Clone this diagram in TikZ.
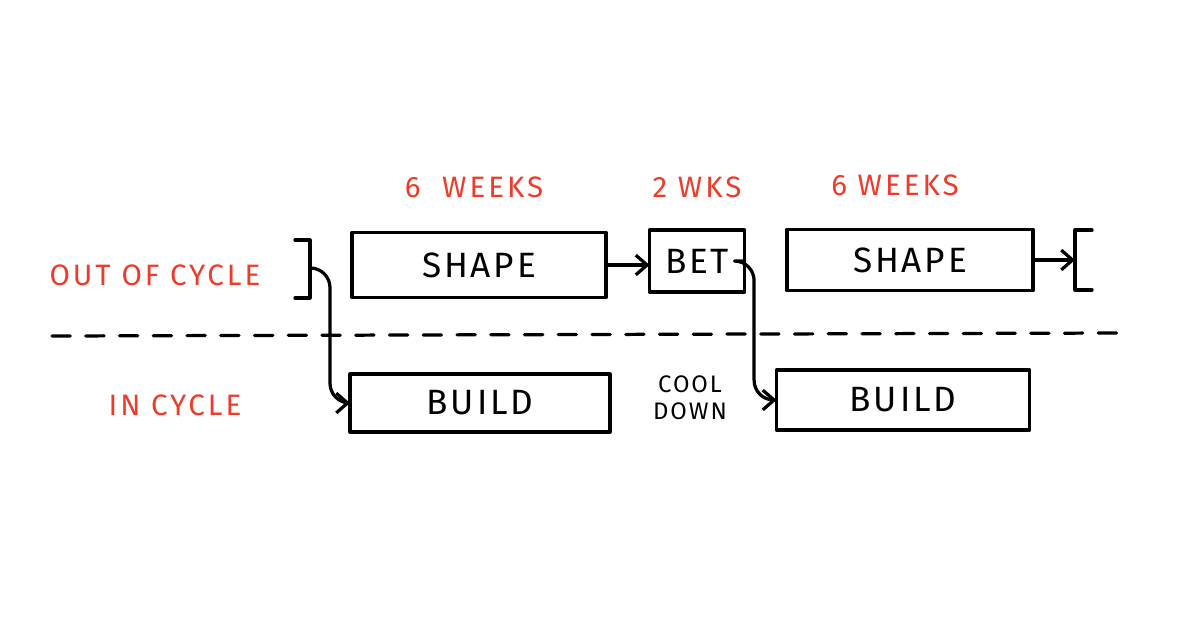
\documentclass[tikz,border=0pt]{standalone}
\usepackage{fontspec}
\setmainfont{Fira Sans}
\usetikzlibrary{positioning,calc,arrows.meta}
\definecolor{penred}{HTML}{EE3B2B}
\tikzset{
  every path/.style={line width=2.3pt,line cap=round,line join=round},
  every node/.style={align=center,outer sep=0pt},
  phase/.style={draw,line width=2.3pt,inner sep=0pt,
    font=\fontsize{25}{25}\selectfont\addfontfeatures{LetterSpace=8}},
  tag/.style={text=penred,font=\fontsize{21}{21}\selectfont\addfontfeatures{LetterSpace=10}},
  note/.style={font=\fontsize{17}{19}\selectfont\addfontfeatures{LetterSpace=8}},
  flow/.style={-{Straight Barb[length=8pt,width=14pt,line width=2.3pt]}},
}

\begin{document}
\begin{tikzpicture}[x=0.025cm,y=-0.025cm]
  \useasboundingbox (0,0) rectangle (1200,627);
  % boxes
  \node [phase,minimum width=254*0.025cm,minimum height=65*0.025cm] (shape1) at (479,265) {SHAPE};
  \node [phase,minimum width=95*0.025cm,minimum height=62*0.025cm] (bet) at (697,261) {BET};
  \node [phase,minimum width=246*0.025cm,minimum height=61*0.025cm] (shape2) at (910,260) {SHAPE};
  \node [phase,minimum width=260*0.025cm,minimum height=58*0.025cm] (build1) at (480,403) {BUILD};
  \node [phase,minimum width=253*0.025cm,minimum height=60*0.025cm] (build2) at (903,400) {BUILD};
  \node [note] (cool) at (690,398) {COOL\\DOWN};
  % labels
  \node [tag] (outc) at (155,275) {OUT OF CYCLE};
  \node [tag] (inc) at (175,405) {IN CYCLE};
  \node [tag] (w1) at (474,187) {6\ \ WEEKS};
  \node [tag] (w2) at (697,187) {2 WKS};
  \node [tag] (w3) at (895,185) {6 WEEKS};
  % brackets
  \coordinate (lbr) at (310,268);
  \coordinate (rbr) at (1075,261);
  \draw (295,240) -| (310,298) -- (295,298);
  \draw (1092,230) -| (1075,290) -- (1092,290);
  % divider
  \coordinate (d1) at (52,336);
  \coordinate (d2) at (1118,333);
  \draw [dash pattern=on 13pt off 11pt] (d1) -- (d2);
  % flow
  \draw [flow,rounded corners=14pt] (lbr) -| ($(lbr)!.5!(build1.west)$) |- (build1.west);
  \draw [flow] (shape1.east) -- (shape1.east -| bet.west);
  \draw [flow,rounded corners=14pt] (bet.east) -| ($(bet.east)!.3!(build2.west)$) |- (build2.west);
  \draw [flow] (shape2.east) -- (shape2.east -| rbr);
\end{tikzpicture}
\end{document}
